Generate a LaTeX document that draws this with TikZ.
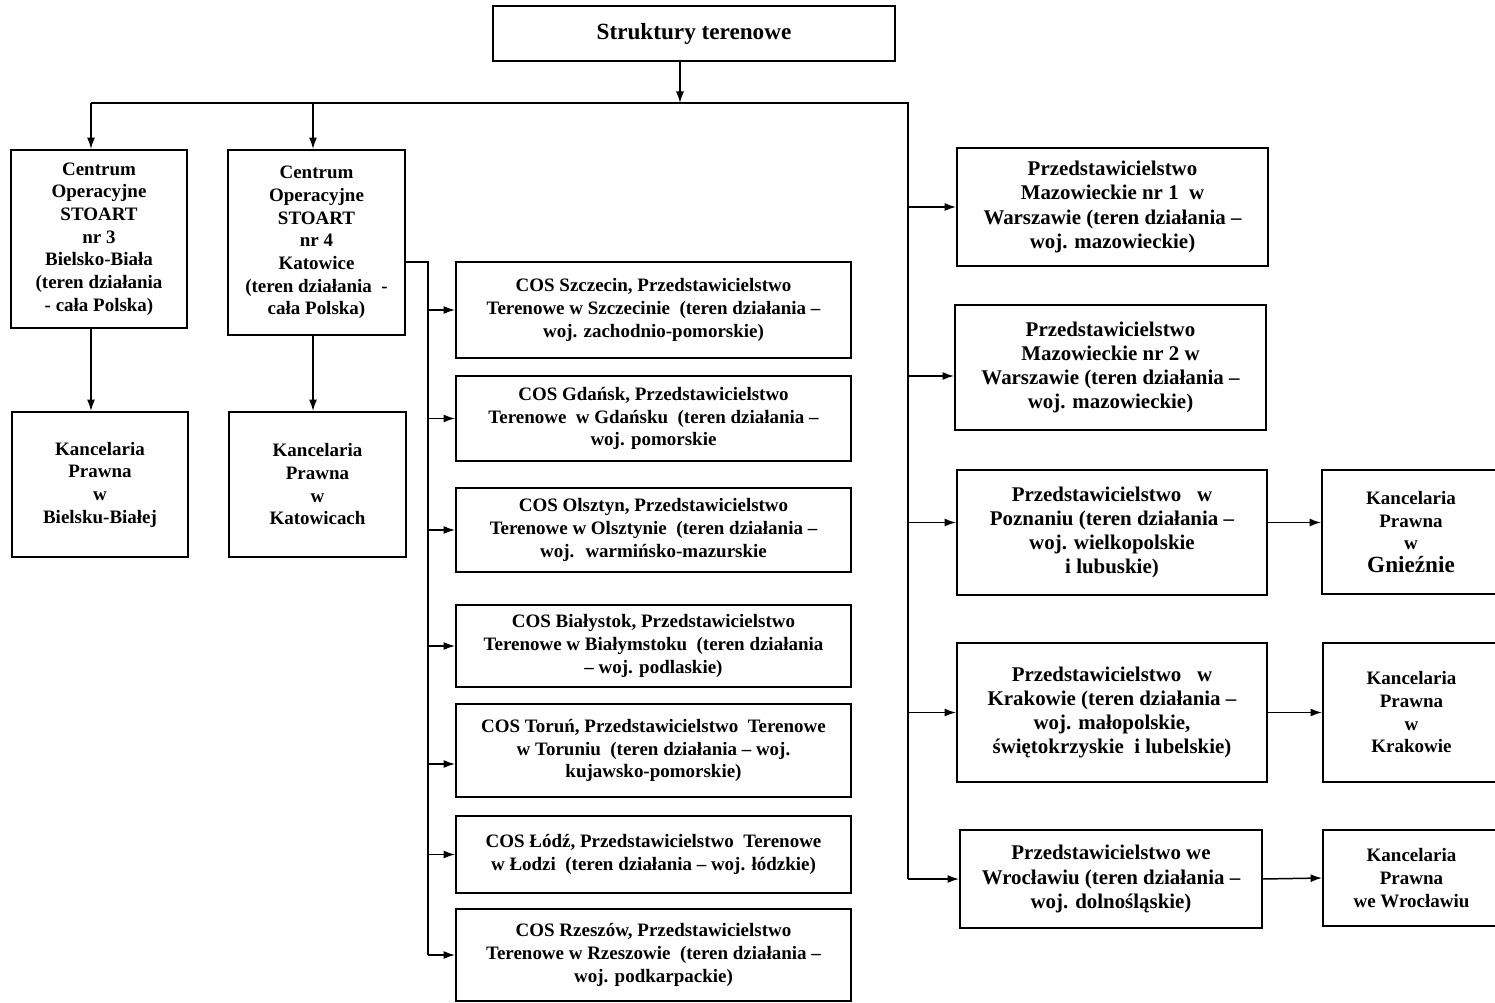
\documentclass[tikz,border=0pt]{standalone}
\usepackage{fontspec}
\setmainfont{Liberation Serif}
\usetikzlibrary{arrows.meta,calc}

\begin{document}
\begin{tikzpicture}[x=0.02cm,y=-0.02cm,
    main/.style = {draw, line width=1.1pt, align=center, inner sep=0pt, font=\bfseries\fontsize{10.8}{12.9}\selectfont},
    wide/.style = {main, font=\bfseries\fontsize{11.9}{13.8}\selectfont},
    link/.style = {-{Latex[length=2.3mm,width=1.6mm]}, line width=0.85pt},
    line/.style = {line width=0.85pt}]
      \clip (0,0) rectangle (1495,1003);

      \node[main, minimum width=8.04cm, minimum height=1.1cm, font=\bfseries\fontsize{13.2}{15}\selectfont] at (694,33.5) (top){Struktury terenowe};

      \node[main, minimum width=3.52cm, minimum height=3.56cm] at (99,239) (c3){Centrum\\Operacyjne\\STOART\\nr 3\\Bielsko-Biała\\(teren działania\\- cała Polska)};
      \node[main, minimum width=3.54cm, minimum height=3.7cm] at (316.5,242.5) (c4){Centrum\\Operacyjne\\STOART\\nr 4\\Katowice\\(teren działania~ -\\cała Polska)};
      \node[main, minimum width=3.52cm, minimum height=2.9cm] at (100,484.5) (k3){Kancelaria\\Prawna\\w\\Bielsku-Białej};
      \node[main, minimum width=3.54cm, minimum height=2.9cm] at (317.5,484.5) (k4){Kancelaria\\Prawna\\w\\Katowicach};

      \node[main, minimum width=7.9cm, minimum height=1.92cm] at (653.5,310) (szcz){COS Szczecin, Przedstawicielstwo\\Terenowe w Szczecinie~ (teren działania –\\woj. zachodnio-pomorskie)};
      \node[main, minimum width=7.9cm, minimum height=1.7cm] at (653.5,418.5) (gdan){COS Gdańsk, Przedstawicielstwo\\Terenowe~ w Gdańsku~ (teren działania –\\woj. pomorskie};
      \node[main, minimum width=7.9cm, minimum height=1.68cm] at (653.5,530) (olsz){COS Olsztyn, Przedstawicielstwo\\Terenowe w Olsztynie~ (teren działania –\\woj.~ warmińsko-mazurskie};
      \node[main, minimum width=7.9cm, minimum height=1.64cm] at (653.5,646) (bial){COS Białystok, Przedstawicielstwo\\Terenowe w Białymstoku~ (teren działania\\– woj. podlaskie)};
      \node[main, minimum width=7.9cm, minimum height=1.86cm] at (653.5,750.5) (toru){COS Toruń, Przedstawicielstwo~ Terenowe\\w Toruniu~ (teren działania – woj.\\kujawsko-pomorskie)};
      \node[main, minimum width=7.9cm, minimum height=1.54cm] at (653.5,854.5) (lodz){COS Łódź, Przedstawicielstwo~ Terenowe\\w Łodzi~ (teren działania – woj. łódzkie)};
      \node[main, minimum width=7.9cm, minimum height=1.84cm] at (653.5,955) (rzes){COS Rzeszów, Przedstawicielstwo\\Terenowe w Rzeszowie~ (teren działania –\\woj. podkarpackie)};

      \node[wide, minimum width=6.22cm, minimum height=2.36cm] at (1112.5,207) (maz1){Przedstawicielstwo\\Mazowieckie nr 1~ w\\Warszawie (teren działania –\\woj. mazowieckie)};
      \node[wide, minimum width=6.22cm, minimum height=2.5cm] at (1110.5,367.5) (maz2){Przedstawicielstwo\\Mazowieckie nr 2 w\\Warszawie (teren działania –\\woj. mazowieckie)};
      \node[wide, minimum width=6.2cm, minimum height=2.5cm] at (1112,532.5) (pozn){Przedstawicielstwo~~ w\\Poznaniu (teren działania –\\woj. wielkopolskie\\i lubuskie)};
      \node[wide, minimum width=6.2cm, minimum height=2.78cm] at (1112,712.5) (krak){Przedstawicielstwo~~ w\\Krakowie (teren działania –\\woj. małopolskie,\\świętokrzyskie~ i lubelskie)};
      \node[wide, minimum width=6.04cm, minimum height=1.96cm] at (1111,879) (wroc){Przedstawicielstwo we\\Wrocławiu (teren działania –\\woj. dolnośląskie)};

      \node[main, minimum width=3.56cm, minimum height=2.48cm] at (1411,532) (kgn){Kancelaria\\Prawna\\w\\{\fontsize{13.2}{15}\selectfont Gnieźnie}};
      \node[main, minimum width=3.54cm, minimum height=2.78cm] at (1411.5,712.5) (kkr){Kancelaria\\Prawna\\w\\Krakowie};
      \node[main, minimum width=3.54cm, minimum height=1.92cm] at (1411.5,878) (kwr){Kancelaria\\Prawna\\we Wrocławiu};

      \coordinate (split) at (680,103);
      \coordinate (bl) at (91,103);
      \coordinate (bm) at (313,103);
      \coordinate (br) at (908,103);
      \coordinate (ct) at (428,262);
      \coordinate (toruin) at ([yshift=-0.27cm]toru.west);
      \coordinate (maz2in) at ([yshift=-0.17cm]maz2.west);
      \coordinate (poznin) at ([yshift=0.2cm]pozn.west);

      \draw[link] (top.south -| split) -- (split);
      \draw[line] (bl) -- (br) -- (br |- wroc.west);
      \draw[link] (bl) -- (bl |- c3.north);
      \draw[link] (bm) -- (bm |- c4.north);
      \draw[link] (bl |- c3.south) -- (bl |- k3.north);
      \draw[link] (bm |- c4.south) -- (bm |- k4.north);

      \draw[line] (c4.east |- ct) -- (ct) -- (ct |- rzes.west);
      \draw[link] (ct |- szcz.west) -- (szcz.west);
      \draw[link] (ct |- gdan.west) -- (gdan.west);
      \draw[link] (ct |- olsz.west) -- (olsz.west);
      \draw[link] (ct |- bial.west) -- (bial.west);
      \draw[link] (ct |- toruin) -- (toruin);
      \draw[link] (ct |- lodz.west) -- (lodz.west);
      \draw[link] (ct |- rzes.west) -- (rzes.west);

      \draw[link] (br |- maz1.west) -- (maz1.west);
      \draw[link] (br |- maz2in) -- (maz2in);
      \draw[link] (br |- poznin) -- (poznin);
      \draw[link] (br |- krak.west) -- (krak.west);
      \draw[link] (br |- wroc.west) -- (wroc.west);

      \draw[link] (poznin -| pozn.east) -- (poznin -| kgn.west);
      \draw[link] (krak.east) -- (kkr.west);
      \draw[link] (wroc.east) -- (kwr.west);
    \end{tikzpicture}
\end{document}
